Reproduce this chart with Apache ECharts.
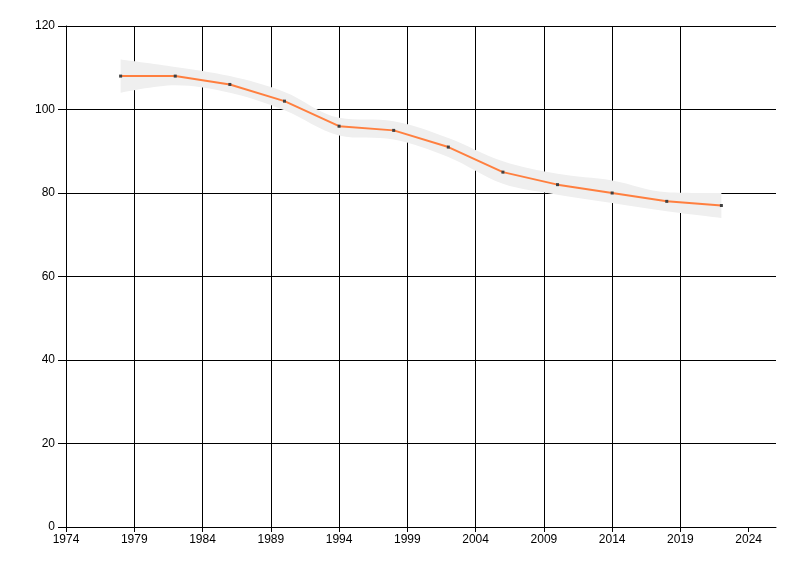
<!DOCTYPE html>
<html>
<head>
<meta charset="utf-8">
<script src="https://cdn.jsdelivr.net/npm/echarts@6/dist/echarts.min.js"></script>
<style>html,body{margin:0;padding:0;background:#fff}#c{width:800px;height:576px}</style>
</head>
<body>
<div id="c"></div>
<script>
var years = [1978, 1982, 1986, 1990, 1994, 1998, 2002, 2006, 2010, 2014, 2018, 2022];
var values = [108, 108, 106, 102, 96, 95, 91, 85, 82, 80, 78, 77];
var upper = [112, 110.2, 108, 104.2, 98, 97.2, 93.2, 87.6, 84.6, 83, 80.2, 80];
var lower = [104, 105.8, 104, 99.8, 93.8, 92.8, 88.6, 82.2, 79.6, 77.6, 75.6, 74];
var xTickYears = [1974, 1979, 1984, 1989, 1994, 1999, 2004, 2009, 2014, 2019, 2024];
var yTicks = [0, 20, 40, 60, 80, 100, 120];
var xStart = 1974, xEnd = 2026;

var off = function (y) { return y - xStart; };
var chart = echarts.init(document.getElementById('c'));
var font = { fontFamily: 'Liberation Sans, Arial, sans-serif', fontSize: 12, color: '#000' };
chart.setOption({
  animation: false,
  backgroundColor: '#fff',
  grid: { left: 66, right: 24, top: 26, bottom: 49 },
  xAxis: {
    type: 'value', min: 0, max: xEnd - xStart, interval: 5,
    axisLine: { lineStyle: { color: '#000', width: 1 } },
    axisTick: { length: 5, lineStyle: { color: '#000' }, customValues: xTickYears.map(off) },
    axisLabel: Object.assign({ margin: 7, customValues: xTickYears.map(off), formatter: function (v) { return String(v + xStart); } }, font),
    splitLine: { show: true, showMaxLine: false, lineStyle: { color: '#000', width: 1 } }
  },
  yAxis: {
    type: 'value', min: yTicks[0], max: yTicks[yTicks.length - 1], interval: 20,
    axisLine: { show: true, lineStyle: { color: '#000', width: 1 } },
    axisTick: { show: true, length: 8, lineStyle: { color: '#000' } },
    axisLabel: Object.assign({ margin: 11 }, font),
    splitLine: { show: true, lineStyle: { color: '#000', width: 1 } }
  },
  series: [
    {
      type: 'line', stack: 'band', smooth: 0.35, symbol: 'none', silent: true,
      encode: { x: 1, y: 0 },
      lineStyle: { opacity: 0 },
      data: years.map(function (y, i) { return [lower[i], off(y)]; })
    },
    {
      type: 'line', stack: 'band', smooth: 0.35, symbol: 'none', silent: true,
      encode: { x: 1, y: 0 },
      lineStyle: { opacity: 0 },
      areaStyle: { color: '#efefef', opacity: 1 },
      data: years.map(function (y, i) { return [upper[i] - lower[i], off(y)]; })
    },
    {
      type: 'line', symbol: 'rect', symbolSize: 3, showSymbol: true,
      lineStyle: { color: '#ff7f3f', width: 2 },
      itemStyle: { color: '#404040' },
      z: 5,
      data: years.map(function (y, i) { return [off(y), values[i]]; })
    }
  ]
});
</script>
</body>
</html>
